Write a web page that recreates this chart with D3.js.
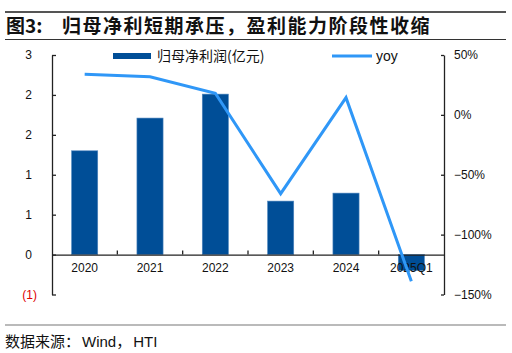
<!DOCTYPE html>
<html>
<head>
<meta charset="utf-8">
<script src="https://cdn.jsdelivr.net/npm/d3@7"></script>
<style>
  body { margin: 0; background: #fff; }
  svg { display: block; }
  text { font-family: "Liberation Sans", Arial, sans-serif; }
  .cjk { font-family: "Noto Sans CJK SC", sans-serif; }
</style>
</head>
<body>
<svg id="chart" width="512" height="353"></svg>
<script>
// data
var categories = ["2020", "2021", "2022", "2023", "2024", "2025Q1"];
var profit = [1.30, 1.71, 2.01, 0.67, 0.77, -0.20];   // 归母净利润(亿元)
var yoy = [33.9, 31.9, 18.1, -65.8, 14.4, -139];      // %
var leftTicks = [2.5, 2, 1.5, 1, 0.5, 0, -0.5];
var rightTicks = [50, 0, -50, -100, -150];

var svg = d3.select("#chart");
var plotL = 52, plotR = 444, plotT = 55, plotB = 294.5;

var x = d3.scaleBand().domain(categories).range([plotL, plotR])
    .paddingInner(0.6).paddingOuter(0.3);
var yL = d3.scaleLinear().domain([-0.5, 2.5]).range([plotB, plotT]);
var yR = d3.scaleLinear().domain([-150, 50]).range([plotB, plotT]);

// header / footer rules
svg.append("line").attr("x1", 5).attr("x2", 506).attr("y1", 12).attr("y2", 12)
    .attr("stroke", "#555").attr("stroke-width", 2);
svg.append("line").attr("x1", 5).attr("x2", 506).attr("y1", 39.5).attr("y2", 39.5)
    .attr("stroke", "#333").attr("stroke-width", 1.2);
svg.append("line").attr("x1", 5).attr("x2", 506).attr("y1", 325).attr("y2", 325)
    .attr("stroke", "#777").attr("stroke-width", 1.2);

var title = svg.append("text").attr("class", "cjk").attr("y", 33)
    .attr("font-size", 19).attr("font-weight", "bold").attr("fill", "#111");
title.append("tspan").attr("x", 6).text("图3:");
title.append("tspan").attr("x", 62).attr("letter-spacing", 1.5).text("归母净利短期承压，盈利能力阶段性收缩");

svg.append("text").attr("x", 5).attr("y", 347).attr("font-size", 15).attr("fill", "#111")
    .html('<tspan class="cjk">数据来源：</tspan><tspan dx="2">Wind</tspan><tspan class="cjk">，</tspan><tspan dx="2">HTI</tspan>');

// bars
svg.selectAll("rect.bar").data(categories).enter().append("rect")
    .attr("class", "bar")
    .attr("x", function (d) { return x(d); })
    .attr("width", x.bandwidth())
    .attr("y", function (d, i) { return yL(Math.max(0, profit[i])); })
    .attr("height", function (d, i) { return Math.abs(yL(profit[i]) - yL(0)); })
    .attr("fill", "#004E97")
    .attr("stroke", "#4f86bf").attr("stroke-width", 0.6);

// left axis
function fmtLeft(v) {
    var r = Math.sign(v) * Math.round(Math.abs(v));
    return r < 0 ? "(" + Math.abs(r) + ")" : String(r);
}
var gL = svg.append("g").attr("transform", "translate(" + plotL + ",0)")
    .call(d3.axisLeft(yL).tickValues(leftTicks).tickFormat(fmtLeft)
        .tickSize(-4).tickSizeOuter(0).tickPadding(15));
gL.select(".domain").attr("stroke", "#222").attr("stroke-width", 1.3);
gL.selectAll(".tick line").attr("stroke", "#222").attr("stroke-width", 1.3);
gL.selectAll(".tick text").attr("font-size", 12).attr("fill", "#111")
    .attr("font-family", "Liberation Sans, Arial, sans-serif")
    .attr("dx", function (d) { return d < 0 ? 0 : -5; })
    .filter(function (d) { return d < 0; }).attr("fill", "#e00000");

// right axis
var gR = svg.append("g").attr("transform", "translate(" + plotR + ",0)")
    .call(d3.axisRight(yR).tickValues(rightTicks)
        .tickFormat(function (v) { return (v < 0 ? "\u2212" + Math.abs(v) : v) + "%"; })
        .tickSize(-3).tickSizeOuter(0).tickPadding(10));
gR.select(".domain").attr("stroke", "#222").attr("stroke-width", 1.3);
gR.selectAll(".tick line").attr("stroke", "#222").attr("stroke-width", 1.3);
gR.selectAll(".tick text").attr("font-size", 12).attr("fill", "#111")
    .attr("font-family", "Liberation Sans, Arial, sans-serif");

// category axis on zero line
var gX = svg.append("g").attr("transform", "translate(0," + yL(0) + ")")
    .call(d3.axisBottom(x).tickSize(0).tickPadding(9));
gX.select(".domain").attr("stroke", "#222").attr("stroke-width", 1.3);
gX.selectAll(".tick text").attr("font-size", 12).attr("fill", "#111")
    .attr("font-family", "Liberation Sans, Arial, sans-serif");
gX.selectAll("line.sep").data(categories.slice(1)).enter().append("line")
    .attr("class", "sep")
    .attr("x1", function (d) { return x(d) - x.step() * x.paddingInner() / 2; })
    .attr("x2", function (d) { return x(d) - x.step() * x.paddingInner() / 2; })
    .attr("y1", 0).attr("y2", -4)
    .attr("stroke", "#222").attr("stroke-width", 1.3);

// yoy line
var line = d3.line()
    .x(function (d, i) { return x(categories[i]) + x.bandwidth() / 2; })
    .y(function (d) { return yR(d); });
svg.append("path").datum(yoy).attr("d", line)
    .attr("fill", "none").attr("stroke", "#2f97f7").attr("stroke-width", 3);

// legend
svg.append("rect").attr("x", 113).attr("y", 53).attr("width", 38).attr("height", 6)
    .attr("fill", "#004E97");
svg.append("text").attr("class", "cjk").attr("x", 157).attr("y", 61)
    .attr("font-size", 14).attr("fill", "#111").text("归母净利润(亿元)");
svg.append("line").attr("x1", 332).attr("x2", 372).attr("y1", 56).attr("y2", 56)
    .attr("stroke", "#2f97f7").attr("stroke-width", 3);
svg.append("text").attr("x", 376).attr("y", 61)
    .attr("font-size", 14).attr("fill", "#111").text("yoy");
</script>
</body>
</html>
